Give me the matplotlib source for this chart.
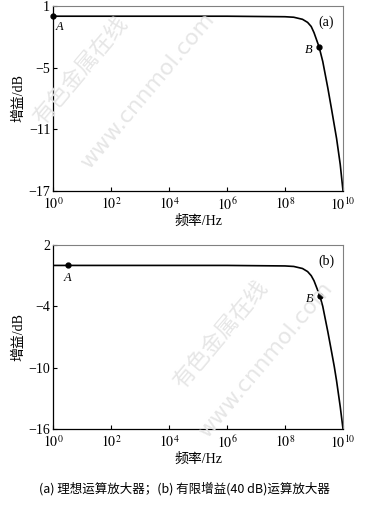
import matplotlib
matplotlib.use('Agg')
import matplotlib.pyplot as plt

plt.rcParams['font.family'] = ['Liberation Serif', 'Noto Sans CJK SC']
plt.rcParams['mathtext.fontset'] = 'stix'

# (a) ideal op amp
freq_a = [1, 1e6, 1e8, 2e8, 4e8, 6e8, 8e8, 1e9, 1.5e9, 2e9, 3e9, 4e9, 5e9, 6e9, 8e9, 1e10]
gain_a = [0, 0, -0.05, -0.1, -0.3, -0.6, -1.0, -1.6, -3.0, -4.4, -7.0, -9.0, -10.6, -11.9, -14.4, -17.0]
point_a = {'A': (1, 0), 'B': (1.5e9, -3.0)}

# (b) finite gain (40 dB) op amp
freq_b = [1, 1e6, 1e8, 2e8, 4e8, 6e8, 8e8, 1e9, 1.6e9, 2e9, 3e9, 4e9, 5e9, 6e9, 8e9, 1e10]
gain_b = [0, 0, -0.05, -0.1, -0.3, -0.6, -1.0, -1.5, -3.0, -4.0, -6.5, -8.4, -9.9, -11.3, -13.8, -16.0]
point_b = {'A': (3.2, 0), 'B': (1.6e9, -3.0)}

xticks = [1, 1e2, 1e4, 1e6, 1e8, 1e10]
xticklabels = [r'$10^{%d}$' % p for p in [0, 2, 4, 6, 8, 10]]

fig = plt.figure(figsize=(3.69, 5.07), dpi=100)
ax1 = fig.add_axes([0.1436, 0.6233, 0.786, 0.365])
ax2 = fig.add_axes([0.1436, 0.1538, 0.786, 0.363])


def draw(ax, freq, gain, pts, ylim, yticks, tag, a_off):
    ax.plot(freq, gain, color='black', lw=1.2)
    for name, (x, y) in pts.items():
        ax.plot(x, y, 'o', color='black', ms=3.5, clip_on=False, zorder=5)
    ax.annotate('A', pts['A'], xytext=a_off, textcoords='offset points',
                fontsize=9, style='italic')
    ax.annotate('B', pts['B'], xytext=(-10, -4), textcoords='offset points',
                fontsize=9, style='italic')
    ax.set_xscale('log')
    ax.set_xlim(1, 1e10)
    ax.set_ylim(*ylim)
    ax.set_xticks(xticks)
    ax.set_xticklabels(xticklabels)
    ax.minorticks_off()
    ax.set_yticks(yticks)
    ax.set_yticklabels([str(t).replace('-', '\u2212') for t in yticks])
    ax.tick_params(direction='in', length=3, labelsize=10, width=0.8, pad=2)
    ax.tick_params(axis='x', pad=4)
    for s in ['top', 'right']:
        ax.spines[s].set_color('#808080')
        ax.spines[s].set_linewidth(0.8)
    for s in ['left', 'bottom']:
        ax.spines[s].set_linewidth(0.9)
    ax.set_xlabel('频率/Hz', fontsize=10, labelpad=1)
    ax.set_ylabel('增益/dB', fontsize=10, labelpad=2)
    ax.text(0.97, 0.95, tag, transform=ax.transAxes, ha='right', va='top', fontsize=10)


draw(ax1, freq_a, gain_a, point_a, (-17, 1), [1, -5, -11, -17], '(a)', (2, -10))
draw(ax2, freq_b, gain_b, point_b, (-16, 2), [2, -4, -10, -16], '(b)', (-3, -11))

fig.text(0.5, 0.023, '(a) 理想运算放大器；(b) 有限增益(40 dB)运算放大器',
         ha='center', va='bottom', fontsize=9, family=['Noto Sans CJK SC'])

# watermark
wm = dict(color='#e6e6e6', rotation=50, ha='center', va='center', zorder=0)
fig.text(0.22, 0.86, '有色金属在线', fontsize=16, **wm)
fig.text(0.40, 0.82, 'www.cnnmol.com', fontsize=16, family='DejaVu Sans', **wm)
fig.text(0.60, 0.34, '有色金属在线', fontsize=16, **wm)
fig.text(0.72, 0.29, 'www.cnnmol.com', fontsize=16, family='DejaVu Sans', **wm)

fig.savefig('out.png', dpi=100)
